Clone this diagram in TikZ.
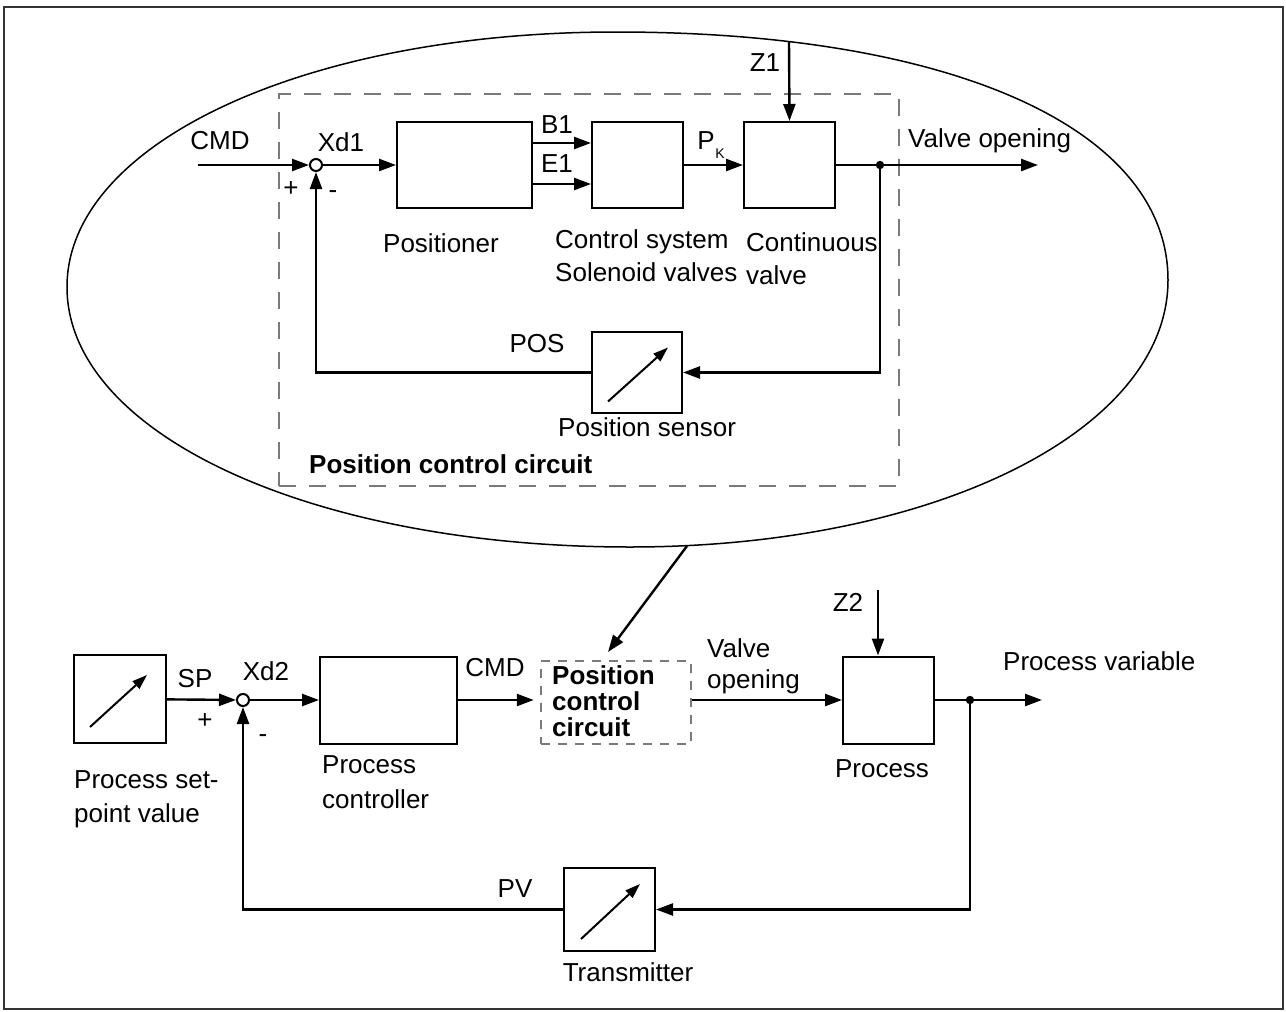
\documentclass[tikz,border=0pt]{standalone}
\usepackage{fontspec}
\setmainfont{Liberation Sans}
\usetikzlibrary{arrows.meta,calc}
\begin{document}
\begin{tikzpicture}[x=1pt,y=-1pt,
  font=\fontsize{26}{30}\selectfont,
  sig/.style={line width=2.4pt},
  arr/.style={sig,-{Triangle[length=17pt,width=12pt]}},
  inarr/.style={line width=2pt,-{Triangle[length=15pt,width=10pt]}},
  blk/.style n args={2}{draw,line width=2pt,minimum width=#1,minimum height=#2,inner sep=0pt},
  sumj/.style={circle,draw,line width=2pt,minimum size=12pt,inner sep=0pt,fill=white},
  lbl/.style={inner sep=0pt,text height=18.6pt,text depth=0pt},
  bigdash/.style={draw=black!52,line width=2.5pt,dash pattern=on 17pt off 13pt,inner sep=0pt},
  smalldash/.style={draw=black!52,line width=2.5pt,dash pattern=on 9pt off 8pt,inner sep=0pt}]
\useasboundingbox (0,0) rectangle (1286,1012);
\fill[white] (0,0) rectangle (1286,1012);
\draw[line width=1.5pt,black!80] (4,7) rectangle (1283,1009);
% oval around the position control circuit
\def\kk{0.565}
\def\kr{0.61}
\draw[line width=1.5pt]
  (616,32) .. controls ({616+\kr*552},32) and (1168,{280-\kr*248}) .. (1168,280)
  .. controls (1168,{280+\kk*267}) and ({630+\kk*538},547) .. (630,547)
  .. controls ({630-\kk*563},547) and (67,{287+\kk*260}) .. (67,287)
  .. controls (67,{287-\kk*255}) and ({616-\kk*549},32) .. (616,32) -- cycle;
\node[bigdash,minimum width=620pt,minimum height=392pt] (pcbig) at (589,290) {};
% ---------- top loop ----------
\node[sumj] (s1) at (316,165) {};
\node[blk={135pt}{86pt}] (posr) at (464.5,165) {};
\node[blk={91pt}{86pt}] (ctl) at (637.5,165) {};
\node[blk={91pt}{86pt}] (cv) at (789.5,165) {};
\node[blk={90pt}{81pt}] (sens) at (637,372.5) {};
\coordinate (cmdin) at (198,165);
\coordinate (j1) at (880,165);
\coordinate (vout) at (1038,165);
\coordinate (z1) at (789,42);
\draw[arr] (cmdin) -- (s1);
\draw[arr] (s1) -- (posr);
\draw[arr] (posr.east |- 0,143) -- (ctl.west |- 0,143);
\draw[arr] (posr.east |- 0,184) -- (ctl.west |- 0,184);
\draw[arr] (ctl) -- (cv);
\draw[arr] (z1) -- (cv.north);
\draw[sig] (cv) -- (j1);
\draw[arr] (j1) -- (vout);
\fill (j1) circle (4.2pt);
\draw[arr] (j1) |- (sens.east);
\draw[arr] (sens.west) -| (s1.south);
\draw[inarr] ([shift={(-29,29)}]sens.center) -- ([shift={(31,-25)}]sens.center);
% top labels
\node[lbl] (tcmd) at (220,140) {CMD};
\node[lbl] (txd1) at (341,142) {Xd1};
\node[lbl] (tp1) at (291,187) {+};
\node[lbl] (tm1) at (333,189) {-};
\node[lbl] (tb1) at (557,124) {B1};
\node[lbl] (te1) at (557,163) {E1};
\node[lbl] (tpk) at (706,140) {P};
\node[inner sep=0pt,text height=10pt,text depth=0pt,font=\fontsize{14}{14}\selectfont] (tk) at (720,153) {K};
\node[lbl] (tz1) at (765,62) {Z1};
\node[lbl,anchor=west] (tvo) at (908,138) {Valve opening};
\node[lbl] (tposr) at (441,243) {Positioner};
\node[lbl,anchor=west] (tcs1) at (555,239) {Control system};
\node[lbl,anchor=west] (tcs2) at (555,272) {Solenoid valves};
\node[lbl,anchor=west] (tcv1) at (746,242) {Continuous};
\node[lbl,anchor=west] (tcv2) at (746,275) {valve};
\node[lbl] (tpos) at (537,343) {POS};
\node[lbl,anchor=west] (tsens) at (558,427) {Position sensor};
\node[lbl,anchor=west,font=\fontsize{26}{30}\selectfont\bfseries] (tpcc) at (309,464) {Position control circuit};
% ---------- bottom loop ----------
\node[blk={92pt}{88pt}] (spb) at (120,699) {};
\node[sumj] (s2) at (243,700) {};
\node[blk={137pt}{87pt}] (pc) at (388.5,700) {};
\node[smalldash,minimum width=150pt,minimum height=83pt] (pcc) at (616,702.5) {};
\node[blk={91pt}{87pt}] (proc) at (888.5,700) {};
\node[blk={91pt}{83pt}] (tx) at (609.5,909.5) {};
\coordinate (j2) at (970,700);
\coordinate (pvout) at (1042,700);
\coordinate (z2) at (878,590);
\coordinate (ebot) at (687,546);
\coordinate (etip) at (608,652);
\draw[arr] (spb) -- (s2);
\draw[arr] (s2) -- (pc);
\draw[arr,shorten >=6pt] (pc.east) -- (pc.east -| pcc.west);
\draw[arr] (pcc.east |- proc.west) -- (proc.west);
\draw[arr] (z2) -- (z2 |- proc.north);
\draw[sig] (proc.east) -- (j2);
\draw[arr] (j2) -- (pvout);
\fill (j2) circle (4.2pt);
\draw[arr] (j2) |- (tx.east);
\draw[arr] (tx.west) -| (s2.south);
\draw[arr] (ebot) -- (etip);
\draw[inarr] ([shift={(-30,28)}]spb.center) -- ([shift={(27,-24)}]spb.center);
\draw[inarr] ([shift={(-28.5,29.5)}]tx.center) -- ([shift={(30.5,-25.5)}]tx.center);
% bottom labels
\node[lbl] (tsp) at (195,678) {SP};
\node[lbl] (txd2) at (266,671) {Xd2};
\node[lbl] (tp2) at (205,719) {+};
\node[lbl] (tm2) at (263,733) {-};
\node[lbl,anchor=west] (tsv1) at (74,779) {Process set-};
\node[lbl,anchor=west] (tsv2) at (74,813) {point value};
\node[lbl,anchor=west] (tpc1) at (322,764) {Process};
\node[lbl,anchor=west] (tpc2) at (322,799) {controller};
\node[lbl] (tcmd2) at (495,667) {CMD};
\node[lbl,anchor=west,font=\fontsize{26}{30}\selectfont\bfseries] (tpc_a) at (552,675) {Position};
\node[lbl,anchor=west,font=\fontsize{26}{30}\selectfont\bfseries] (tpc_b) at (552,701) {control};
\node[lbl,anchor=west,font=\fontsize{26}{30}\selectfont\bfseries] (tpc_c) at (552,727) {circuit};
\node[lbl,anchor=west] (tvo1) at (707,648) {Valve};
\node[lbl,anchor=west] (tvo2) at (707,679) {opening};
\node[lbl] (tz2) at (848,602) {Z2};
\node[lbl] (tproc) at (882,768) {Process};
\node[lbl,anchor=west] (tpv) at (1003,661) {Process variable};
\node[lbl] (tpvl) at (515,888) {PV};
\node[lbl] (ttx) at (628,972) {Transmitter};
\end{tikzpicture}
\end{document}
